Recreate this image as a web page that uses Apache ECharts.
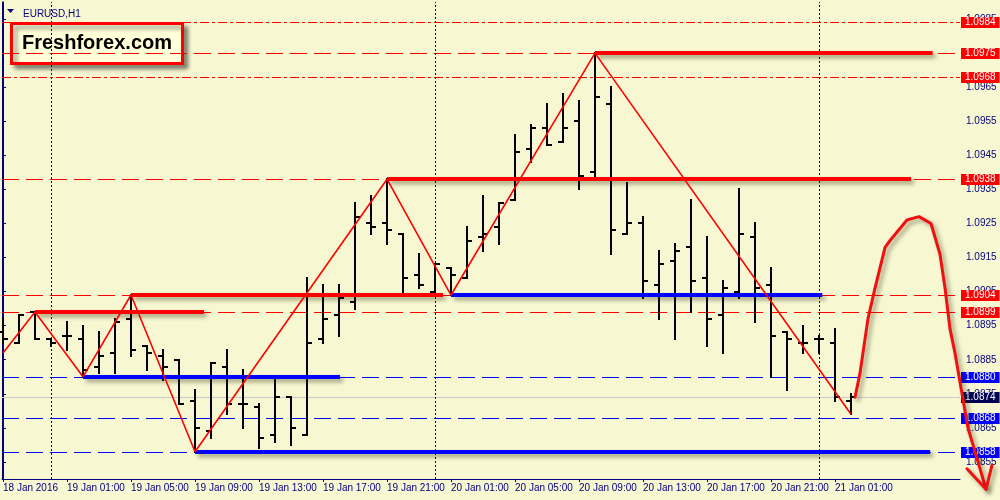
<!DOCTYPE html>
<html>
<head>
<meta charset="utf-8">
<script src="https://cdn.jsdelivr.net/npm/echarts@6/dist/echarts.min.js"></script>
<style>
html,body{margin:0;padding:0;background:#f7f7d2;}
#chart{width:1000px;height:500px;}
</style>
</head>
<body>
<div id="chart"></div>
<script>
// ---- data ----
const symbolTitle = 'EURUSD,H1';
const brand = 'Freshforex.com';
// hourly bars, index 0 = 18 Jan 21:00
const barIndex = [0,1,2,3,4,5,6,7,8,9,10,11,12,13,14,15,16,17,18,19,20,21,22,23,24,25,26,27,28,29,30,31,32,33,34,35,36,37,38,39,40,41,42,43,44,45,46,47,48,49,50,51,52,53];
const opens  = [1.0893,1.0890,1.0899,1.0891,1.0892,1.0891,1.0883,1.0887,1.0897,1.0889,1.0886,1.0885,1.0873,1.0864,1.0883,1.0872,1.0871,1.0863,1.0874,1.0863,1.0891,1.0898,1.0902,1.0925,1.0925,1.0922,1.0910,1.0905,1.0912,1.0909,1.0921,1.0924,1.0932,1.0947,1.0953,1.0949,1.0955,1.0940,1.0960,1.0922,1.0925,1.0907,1.0914,1.0918,1.0909,1.0898,1.0905,1.0921,1.0907,1.0893,1.0890,1.0891,1.0890,1.0873];
const highs  = [1.0897,1.0898,1.0899,1.0891,1.0896,1.0895,1.0893,1.0897,1.0904,1.0889,1.0888,1.0885,1.0876,1.0884,1.0888,1.0882,1.0872,1.0879,1.0874,1.0909,1.0907,1.0907,1.0931,1.0933,1.0938,1.0922,1.0916,1.0913,1.0912,1.0924,1.0933,1.0931,1.0951,1.0954,1.0960,1.0963,1.0961,1.0975,1.0965,1.0937,1.0927,1.0917,1.0919,1.0932,1.0921,1.0908,1.0935,1.0925,1.0912,1.0893,1.0895,1.0892,1.0894,1.0875];
const lows   = [1.0890,1.0890,1.0891,1.0889,1.0888,1.0880,1.0881,1.0881,1.0886,1.0882,1.0879,1.0872,1.0858,1.0862,1.0869,1.0865,1.0859,1.0861,1.0860,1.0863,1.0890,1.0892,1.0900,1.0922,1.0919,1.0905,1.0906,1.0905,1.0904,1.0909,1.0917,1.0919,1.0932,1.0943,1.0948,1.0949,1.0935,1.0939,1.0916,1.0922,1.0903,1.0897,1.0891,1.0899,1.0889,1.0887,1.0903,1.0896,1.0880,1.0876,1.0887,1.0887,1.0873,1.0869];
const closes = [1.0891,1.0898,1.0891,1.0890,1.0892,1.0882,1.0886,1.0896,1.0888,1.0887,1.0883,1.0872,1.0865,1.0884,1.0872,1.0872,1.0862,1.0874,1.0865,1.0890,1.0897,1.0903,1.0927,1.0924,1.0923,1.0909,1.0907,1.0913,1.0910,1.0920,1.0922,1.0931,1.0946,1.0953,1.0948,1.0953,1.0939,1.0962,1.0923,1.0925,1.0908,1.0913,1.0917,1.0908,1.0897,1.0906,1.0922,1.0906,1.0892,1.0891,1.0890,1.0891,1.0874,1.0874];

const xTickPos = [0,4,8,12,16,20,24,28,32,36,40,44,48,52];
const xTickLabels = ['18 Jan 2016','19 Jan 01:00','19 Jan 05:00','19 Jan 09:00','19 Jan 13:00','19 Jan 17:00','19 Jan 21:00','20 Jan 01:00','20 Jan 05:00','20 Jan 09:00','20 Jan 13:00','20 Jan 17:00','20 Jan 21:00','21 Jan 01:00'];
const daySeparators = [3, 27, 51];
const yTickLabels = ['1.0855','1.0865','1.0875','1.0885','1.0895','1.0905','1.0915','1.0925','1.0935','1.0945','1.0955','1.0965','1.0975','1.0985'];

// horizontal levels
const resistanceLevels = [1.0975, 1.0938, 1.0904, 1.0899];
const supportLevels = [1.0880, 1.0868, 1.0858];
const dashDotLevels = [1.0984, 1.0968];
const bidPrice = 1.0874;
// drawn level segments: [fromIndex, toIndex, price]
const resistanceSegments = [[37, 58.1, 1.0975], [24, 56.75, 1.0938], [8, 27.5, 1.0904], [2, 12.56, 1.0899]];
const supportSegments = [[28, 51.2, 1.0904], [5, 21.06, 1.0880], [12, 57.94, 1.0858]];

// zigzag turning points
const zigzagIdx = [0, 2, 5, 8, 12, 24, 28, 37, 53];
const zigzagPrice = [1.0887, 1.0899, 1.0880, 1.0904, 1.0858, 1.0938, 1.0904, 1.0975, 1.0869];

// hand-drawn forecast path
const forecastIdx = [53.25,53.56,54.06,54.5,55.13,55.44,56.5,57.25,58.0,58.56,58.88,59.19,59.5,59.94,60.31,60.88,61.44];
const forecastPrice = [1.0874,1.0881,1.0897,1.0906,1.0918,1.0920,1.0926,1.0927,1.0925,1.0916,1.0906,1.0894,1.0887,1.0875,1.0865,1.0856,1.0847];
const arrowIdx = [60.25, 61.44, 61.81];
const arrowPrice = [1.0853, 1.0847, 1.0854];

// ---- chart ----
const NAVY = '#000080';
const RED = '#ff0000';
const BLUE = '#0000ff';
const FONT = 'Liberation Sans, Arial, sans-serif';
const X_MIN = -0.0625, X_MAX = 59.8125;
const Y_MIN = 1.0850, Y_MAX = 1.0990;

const bars = barIndex.map((x, i) => [x, opens[i], highs[i], lows[i], closes[i]]);
const zigzag = zigzagIdx.map((x, i) => [x, zigzagPrice[i]]);
const forecast = forecastIdx.map((x, i) => [x, forecastPrice[i]]);
const arrow = arrowIdx.map((x, i) => [x, arrowPrice[i]]);
const yTickValues = yTickLabels.map(Number);

// level kinds: 0 resistance, 1 dash-dot, 2 support, 3 bid
const levelData = []
  .concat(dashDotLevels.map(v => [X_MIN, v, 1]))
  .concat(resistanceLevels.map(v => [X_MIN, v, 0]))
  .concat(supportLevels.map(v => [X_MIN, v, 2]))
  .concat([[X_MIN, bidPrice, 3]]);
const levelLook = [
  {stroke: RED, dash: [17, 7], bg: RED},
  {stroke: RED, dash: [9, 3, 3, 3], bg: RED},
  {stroke: BLUE, dash: [17, 7], bg: BLUE},
  {stroke: '#c8c8c8', dash: null, bg: '#000055'}
];

const shadow = {shadowColor: 'rgba(40,40,0,0.45)', shadowBlur: 4, shadowOffsetX: 3, shadowOffsetY: 3};
const segLines = [];
resistanceSegments.forEach(s => segLines.push([
  {coord: [s[0], s[2]], lineStyle: Object.assign({color: RED, width: 4, type: 'solid', cap: 'butt'}, shadow)},
  {coord: [s[1], s[2]]}
]));
supportSegments.forEach(s => segLines.push([
  {coord: [s[0], s[2]], lineStyle: Object.assign({color: BLUE, width: 4, type: 'solid', cap: 'butt'}, shadow)},
  {coord: [s[1], s[2]]}
]));

function pathSeries(points, z) {
  return {
    type: 'custom', silent: true, z: z, clip: false,
    data: points,
    encode: {x: 0, y: 1},
    renderItem: function (params, api) {
      if (params.dataIndex !== 0) return null;
      const pts = points.map(p => api.coord(p));
      return {
        type: 'polyline',
        shape: {points: pts},
        style: Object.assign({stroke: '#f01010', lineWidth: 3, fill: null, lineJoin: 'round', lineCap: 'round'}, shadow)
      };
    }
  };
}

const chart = echarts.init(document.getElementById('chart'), null, {renderer: 'canvas'});
chart.setOption({
  animation: false,
  backgroundColor: '#f7f7d2',
  title: {
    text: symbolTitle, left: 18, top: 4,
    textStyle: {fontFamily: FONT, fontSize: 10, fontWeight: 'normal', color: NAVY}
  },
  grid: {left: 2, right: 40, top: 2, bottom: 21, containLabel: false},
  xAxis: {
    type: 'value', min: X_MIN, max: X_MAX,
    axisLine: {show: true, onZero: false, lineStyle: {color: NAVY, width: 1}},
    axisTick: {show: true, length: 3, customValues: xTickPos, lineStyle: {color: NAVY}},
    axisLabel: {
      customValues: xTickPos,
      formatter: v => xTickLabels[xTickPos.indexOf(Math.round(v))] || '',
      align: 'left', margin: 4, color: NAVY, fontFamily: FONT, fontSize: 10
    },
    splitLine: {show: false}
  },
  yAxis: [{
    type: 'value', position: 'right', min: Y_MIN, max: Y_MAX, scale: true,
    axisLine: {show: true, lineStyle: {color: NAVY, width: 1}},
    axisTick: {show: true, length: 3, customValues: yTickValues, lineStyle: {color: NAVY}},
    axisLabel: {
      customValues: yTickValues,
      formatter: v => Number(v).toFixed(4),
      margin: 6, color: NAVY, fontFamily: FONT, fontSize: 10
    },
    splitLine: {show: false}
  }, {
    type: 'value', position: 'left', min: Y_MIN, max: Y_MAX, scale: true,
    axisLine: {show: true, lineStyle: {color: NAVY, width: 1}},
    axisTick: {show: false}, axisLabel: {show: false}, splitLine: {show: false}
  }],
  graphic: [{
    type: 'polygon', shape: {points: [[7, 9], [14, 9], [10.5, 13]]}, style: {fill: NAVY}, z: 100
  }, {
    type: 'group', left: 10, top: 22, z: 100,
    children: [{
      type: 'rect', shape: {x: 0, y: 0, width: 171, height: 40},
      style: {fill: '#ffffd9', stroke: RED, lineWidth: 3, shadowColor: 'rgba(0,0,0,0.4)', shadowBlur: 4, shadowOffsetX: 4, shadowOffsetY: 4}
    }, {
      type: 'text', x: 85.5, y: 20,
      style: {text: brand, fill: '#000000', font: 'bold 20px ' + FONT, textAlign: 'center', textVerticalAlign: 'middle'}
    }]
  }],
  series: [{
    // horizontal price levels with their right-hand price boxes
    type: 'custom', silent: true, z: 1, clip: false,
    data: levelData,
    encode: {x: 0, y: 1},
    renderItem: function (params, api) {
      const v = api.value(1);
      const look = levelLook[api.value(2)];
      const a = api.coord([X_MIN, v]);
      const b = api.coord([X_MAX, v]);
      const y = Math.round(a[1]) + 0.5;
      return {
        type: 'group', children: [{
          type: 'line', shape: {x1: a[0], y1: y, x2: b[0], y2: y},
          style: {stroke: look.stroke, lineWidth: 1, lineDash: look.dash}
        }, {
          type: 'text', x: Math.round(b[0]) + 1, y: y,
          style: {
            text: v.toFixed(4), fill: '#ffffff', backgroundColor: look.bg,
            padding: [1, 4, 0, 4], font: '10px ' + FONT, lineHeight: 10,
            align: 'left', verticalAlign: 'middle'
          }
        }]
      };
    }
  }, {
    // day separators
    type: 'custom', silent: true, z: 1,
    data: daySeparators.map(x => [x, Y_MIN]),
    encode: {x: 0, y: 1},
    renderItem: function (params, api) {
      const a = api.coord([api.value(0), Y_MIN]);
      const b = api.coord([api.value(0), Y_MAX]);
      const x = Math.round(a[0]) + 0.5;
      return {type: 'line', shape: {x1: x, y1: a[1], x2: x, y2: b[1]}, style: {stroke: NAVY, lineWidth: 1, lineDash: [2, 2]}};
    }
  }, {
    type: 'custom', silent: true, z: 3,
    data: bars,
    encode: {x: 0, y: [1, 2, 3, 4]},
    renderItem: function (params, api) {
      const x = api.value(0);
      const o = api.coord([x, api.value(1)]);
      const h = api.coord([x, api.value(2)]);
      const l = api.coord([x, api.value(3)]);
      const c = api.coord([x, api.value(4)]);
      const px = Math.round(o[0]);
      const st = {stroke: '#000000', lineWidth: 2};
      return {
        type: 'group', children: [
          {type: 'line', shape: {x1: px, y1: Math.round(h[1]) - 1, x2: px, y2: Math.round(l[1]) + 1}, style: st},
          {type: 'line', shape: {x1: px - 5, y1: Math.round(o[1]), x2: px, y2: Math.round(o[1])}, style: st},
          {type: 'line', shape: {x1: px, y1: Math.round(c[1]), x2: px + 5, y2: Math.round(c[1])}, style: st}
        ]
      };
    }
  }, {
    type: 'line', data: [], silent: true, z: 4,
    markLine: {
      silent: true, symbol: ['none', 'none'], animation: false,
      label: {show: false},
      data: segLines
    }
  }, {
    type: 'line', data: zigzag, silent: true, z: 5,
    symbol: 'none', lineStyle: {color: RED, width: 1.6}
  },
  pathSeries(forecast, 6),
  pathSeries(arrow, 6)
  ]
});
</script>
</body>
</html>
